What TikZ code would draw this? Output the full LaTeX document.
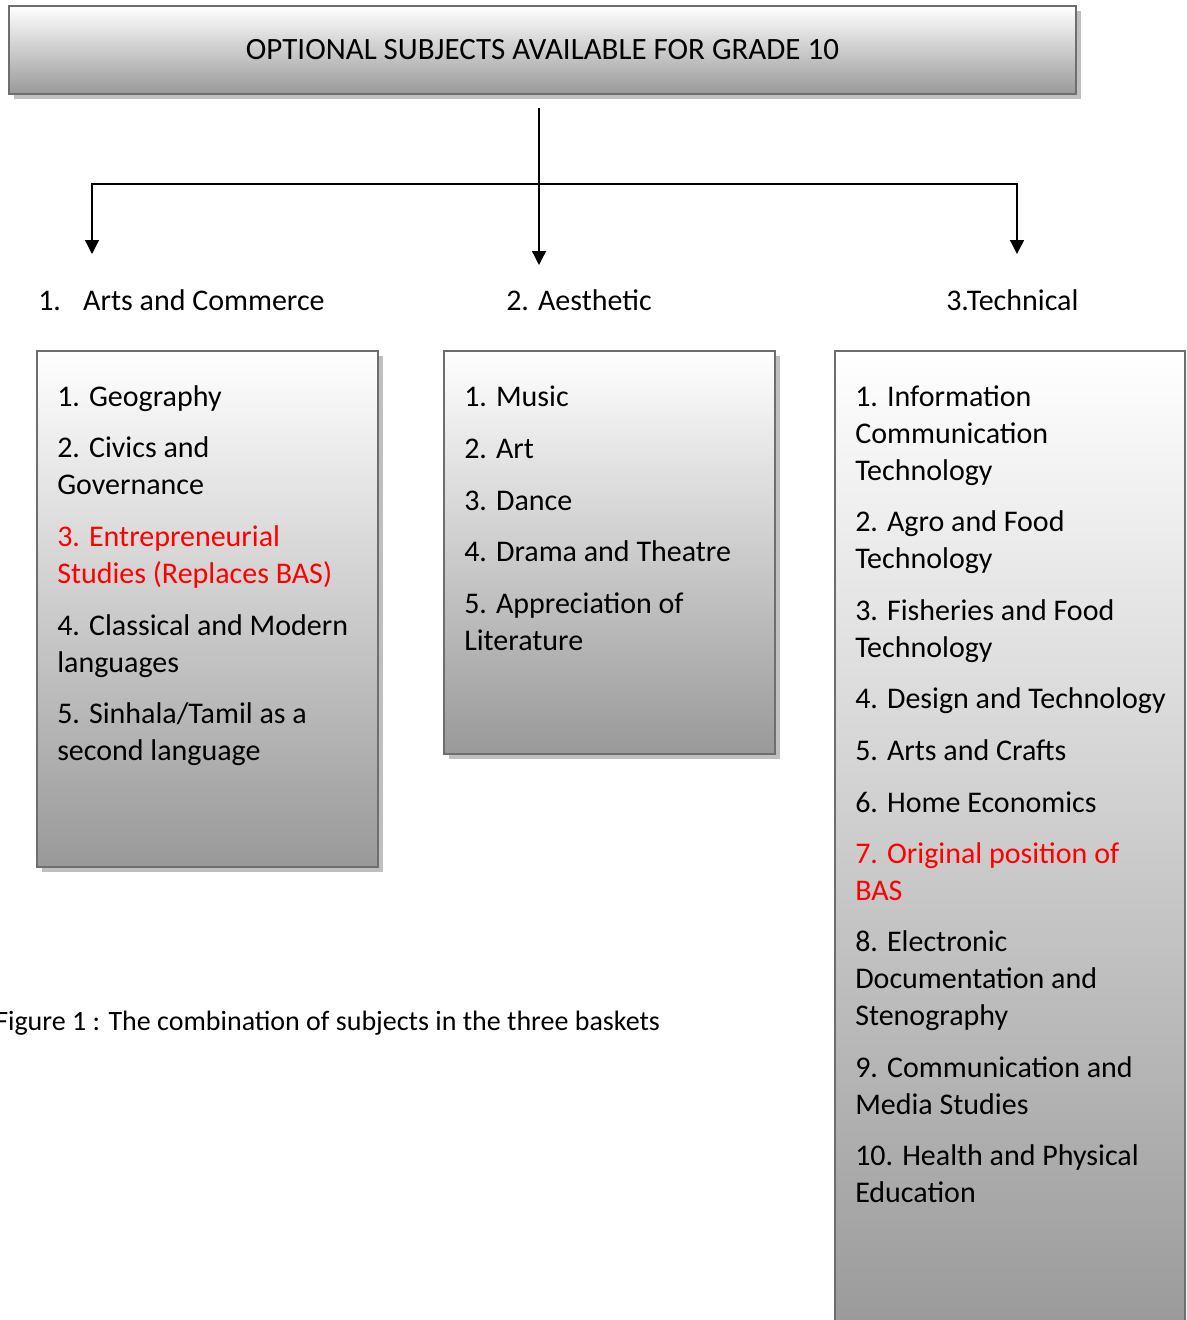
\documentclass[tikz,border=0pt]{standalone}
\usepackage{fontspec}
\setmainfont{Carlito}
\usetikzlibrary{arrows.meta,shadows}

\tikzset{
  basket/.style={draw=black!57, line width=2pt, top color=white, bottom color=black!40,
    drop shadow={shadow xshift=3.5pt, shadow yshift=-3.5pt, fill=black!25, opacity=1}},
  subj/.style={anchor=base west, align=left, inner sep=0pt, font=\fontsize{22.5}{27.75}\selectfont},
  hot/.style={subj, text=red},
  branch/.style={-{Triangle[width=10.5pt,length=10.5pt]}, line width=1pt},
}

\begin{document}
\begin{tikzpicture}[x=0.75pt, y=-0.75pt]
				\path[use as bounding box, clip] (0,0) rectangle (1186,1320);
				% heading and the three baskets
				\node[basket, minimum width=800.25pt, minimum height=66pt, font=\fontsize{23.25}{27.75}\selectfont] (T)at(542.5, 50) {OPTIONAL SUBJECTS AVAILABLE FOR GRADE 10};
				\node[basket, minimum width=255.75pt, minimum height=387pt] (AC)at(207.5, 609) {};
				\node[basket, minimum width=248.25pt, minimum height=302.25pt] (AE)at(609.5, 552.5) {};
				\node[basket, minimum width=262.5pt, minimum height=741.75pt] (TE)at(1010, 845.5) {};
				% basket titles
				\node[subj] (art)at(38, 310) {\makebox[33.75pt][l]{1.}Arts and Commerce};
				\node[subj] (aes)at(506, 310) {2. Aesthetic};
				\node[subj] (tec)at(946, 310) {3.Technical};
				% tree
				\coordinate (stem) at (539, 108);
				\coordinate (fork) at (539, 184);
				\coordinate (artTip) at (92, 254);
				\coordinate (aesTip) at (539, 265);
				\coordinate (tecTip) at (1017, 254);
				\draw[branch] (stem) -- (aesTip);
				\draw[branch] (fork) -| (artTip);
				\draw[branch] (fork) -| (tecTip);
				% arts and commerce (y = baseline of the last line)
				\node[subj] (geo)at(57, 406) {1. Geography};
				\node[subj] (civ)at(57, 494) {2. Civics and\\Governance};
				\node[hot] (ent)at(57, 583) {3. Entrepreneurial\\Studies (Replaces BAS)};
				\node[subj] (cla)at(57, 672) {4. Classical and Modern\\languages};
				\node[subj] (sin)at(57, 760) {5. Sinhala/Tamil as a\\second language};
				% aesthetic
				\node[subj] (mus)at(464, 406) {1. Music};
				\node[subj] (ar)at(464, 458) {2. Art};
				\node[subj] (dan)at(464, 510) {3. Dance};
				\node[subj] (dra)at(464, 561) {4. Drama and Theatre};
				\node[subj] (lit)at(464, 650) {5. Appreciation of\\Literature};
				% technical
				\node[subj] (ict)at(855, 480) {1. Information\\Communication\\Technology};
				\node[subj] (agr)at(855, 568) {2. Agro and Food\\Technology};
				\node[subj] (fis)at(855, 657) {3. Fisheries and Food\\Technology};
				\node[subj] (des)at(855, 708) {4. Design and Technology};
				\node[subj] (cra)at(855, 760) {5. Arts and Crafts};
				\node[subj] (hom)at(855, 812) {6. Home Economics};
				\node[hot] (bas)at(855, 900) {7. Original position of\\BAS};
				\node[subj] (ele)at(855, 1025) {8. Electronic\\Documentation and\\Stenography};
				\node[subj] (com)at(855, 1114) {9. Communication and\\Media Studies};
				\node[subj] (hea)at(855, 1202) {10. Health and Physical\\Education};
				% caption
				\node[anchor=base west, inner sep=0pt, font=\fontsize{21}{25}\selectfont] (cap)at(-5, 1030) {Figure 1 : The combination of subjects in the three baskets};
			\end{tikzpicture}
\end{document}
